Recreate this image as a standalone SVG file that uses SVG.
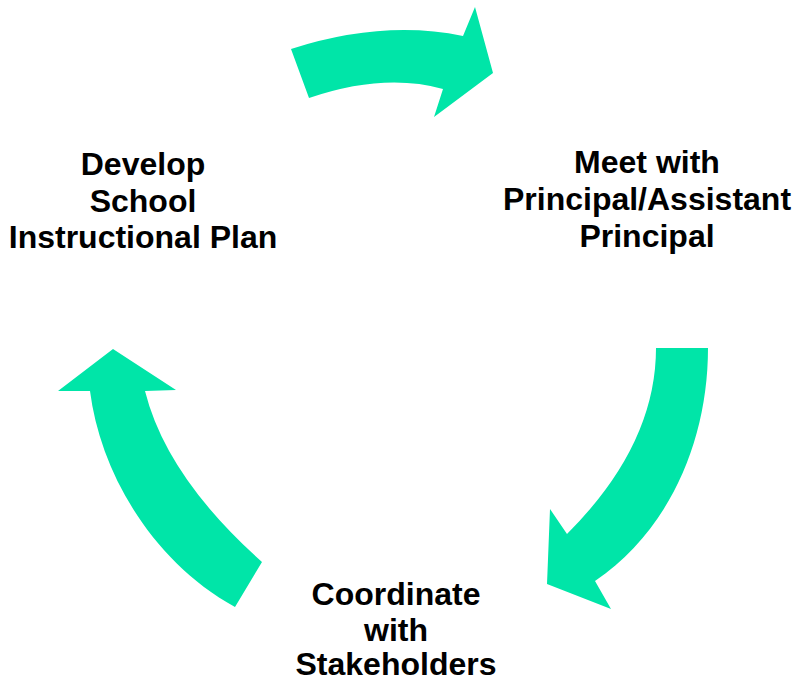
<svg xmlns="http://www.w3.org/2000/svg" width="795" height="682" viewBox="0 0 795 682">
<style>
.arrow{fill:#00E5A8;stroke:none}
.label{font-family:"Liberation Sans",Arial,sans-serif;font-weight:bold;font-size:32px;fill:#000;text-anchor:middle}
</style>
<rect width="795" height="682" fill="#fff"/>
<g id="connectors">
<path id="arrow-top" class="arrow" d="M291,49 Q383,19.5 463,36 L475,7 L493,73 L434,117 L443,89 Q384,72.5 309,98 Z"/>
<path id="arrow-right" class="arrow" d="M656,348 L708,348 C708,440 670,530 595,581 L611,609 L547,584 L550,509 L567,534 Q656,445 656,348 Z"/>
<path id="arrow-left" class="arrow" d="M235,607 C150,560 100,470 90,391 L58,391 L113,349 L176,390 L145,391 Q166.6,477 262,562 Z"/>
</g>
<g id="node-develop">
<text class="label" x="143" y="175">Develop</text>
<text class="label" x="143" y="212">School</text>
<text class="label" x="143" y="248">Instructional Plan</text>
</g>
<g id="node-meet">
<text class="label" x="647" y="173">Meet with</text>
<text class="label" x="647" y="210">Principal/Assistant</text>
<text class="label" x="647" y="247">Principal</text>
</g>
<g id="node-coordinate">
<text class="label" x="396" y="605">Coordinate</text>
<text class="label" x="396" y="641">with</text>
<text class="label" x="396" y="675">Stakeholders</text>
</g>
</svg>
